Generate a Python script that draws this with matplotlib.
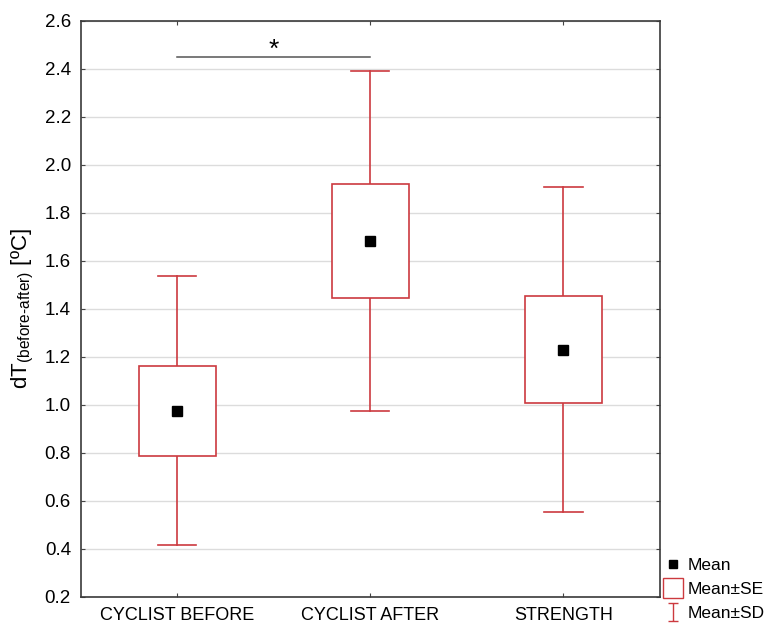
import matplotlib
matplotlib.use("Agg")
import matplotlib.pyplot as plt
from matplotlib.patches import Rectangle
from matplotlib.lines import Line2D
from matplotlib.path import Path

plt.rcParams["font.family"] = ["Liberation Sans", "DejaVu Sans"]
plt.rcParams["mathtext.fontset"] = "custom"
plt.rcParams["mathtext.rm"] = "Liberation Sans"

# data
groups = ["CYCLIST BEFORE", "CYCLIST AFTER", "STRENGTH"]
means = [0.975, 1.682, 1.230]
se = [0.188, 0.236, 0.224]
sd = [0.560, 0.708, 0.677]
yticks = [0.2, 0.4, 0.6, 0.8, 1.0, 1.2, 1.4, 1.6, 1.8, 2.0, 2.2, 2.4, 2.6]
sig_pair = (0, 1)
sig_y = 2.447

RED = "#cc3a3f"
box_w = 0.40
cap_w = 0.20

fig = plt.figure(figsize=(7.68, 6.24), dpi=100)
ax = fig.add_axes([0.105, 0.0433, 0.754, 0.9237])

for y in yticks:
    ax.axhline(y, color="#dcdcdc", lw=1.0, zorder=0)

for i, (m, s, d) in enumerate(zip(means, se, sd)):
    x = i + 1
    # whiskers (SD) from box edges to caps
    ax.plot([x, x], [m + s, m + d], color=RED, lw=1.2, zorder=2)
    ax.plot([x, x], [m - d, m - s], color=RED, lw=1.2, zorder=2)
    ax.plot([x - cap_w / 2, x + cap_w / 2], [m + d] * 2, color=RED, lw=1.2, zorder=2)
    ax.plot([x - cap_w / 2, x + cap_w / 2], [m - d] * 2, color=RED, lw=1.2, zorder=2)
    # SE box
    ax.add_patch(Rectangle((x - box_w / 2, m - s), box_w, 2 * s,
                           facecolor="white", edgecolor=RED, lw=1.2, zorder=3))
    ax.plot(x, m, marker="s", color="black", ms=7, ls="none", zorder=4)

# significance bar
x0, x1 = sig_pair[0] + 1, sig_pair[1] + 1
ax.plot([x0, x1], [sig_y, sig_y], color="#555555", lw=1.1, zorder=2)
ax.text((x0 + x1) / 2, sig_y + 0.03, "*", ha="center", va="center", fontsize=19)

ax.set_xlim(0.5, 3.5)
ax.set_ylim(0.2, 2.6)
ax.set_xticks([1, 2, 3])
ax.set_xticklabels(groups, fontsize=13)
ax.set_yticks(yticks)
ax.set_yticklabels(["%.1f" % v for v in yticks], fontsize=13.5)
ax.tick_params(direction="in", length=3, width=0.8, top=True, right=True,
               color="#444444", pad=7)
for sp in ax.spines.values():
    sp.set_color("#3a3a3a")
    sp.set_linewidth(1.2)
ax.set_ylabel(r"dT$_{\text{(before-after)}}$ [ºC]", fontsize=16, labelpad=6)

# I-beam marker for the SD legend entry
ibeam = Path([(-0.5, 1), (0.5, 1), (0, 1), (0, -1), (-0.5, -1), (0.5, -1)],
             [Path.MOVETO, Path.LINETO, Path.MOVETO, Path.LINETO,
              Path.MOVETO, Path.LINETO])
handles = [
    Line2D([], [], marker="s", color="black", ls="none", ms=6),
    Line2D([], [], marker="s", markerfacecolor="white", markeredgecolor=RED,
           ls="none", ms=14, mew=1.0),
    Line2D([], [], marker=ibeam, markerfacecolor="none", markeredgecolor=RED,
           ls="none", ms=13, mew=1.0),
]
leg = fig.legend(handles, ["Mean", "Mean\u00b1SE", "Mean\u00b1SD"],
                 loc="lower left", bbox_to_anchor=(0.862, 0.0),
                 frameon=True, framealpha=1.0, edgecolor="white",
                 fontsize=12.5, handlelength=1.0, handletextpad=0.3,
                 labelspacing=0.52, borderpad=0.15, borderaxespad=0.0)
leg.set_zorder(10)

fig.savefig("out.png", dpi=100)
